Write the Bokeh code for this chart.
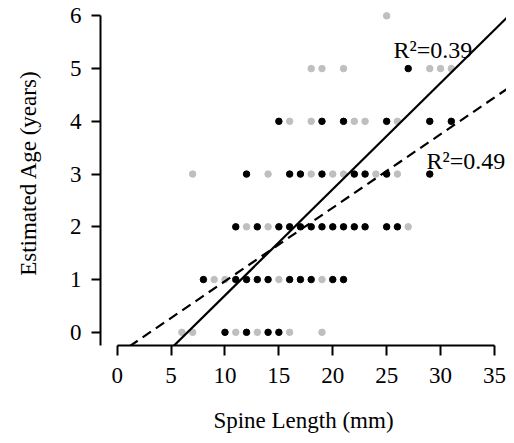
from bokeh.plotting import figure
from bokeh.models import Range1d, FixedTicker, Label
from bokeh.embed import file_html
from bokeh.resources import INLINE

# Data
black_x = [27,
           15, 19, 21, 25, 29, 31,
           12, 16, 17, 19, 22, 23, 25, 29,
           11, 13, 15, 16, 17, 18, 19, 20, 21, 22, 23, 25, 26,
           8, 11, 12, 13, 14, 16, 17, 18, 20, 21,
           10, 12, 14, 15]
black_y = [5,
           4, 4, 4, 4, 4, 4,
           3, 3, 3, 3, 3, 3, 3, 3,
           2, 2, 2, 2, 2, 2, 2, 2, 2, 2, 2, 2, 2,
           1, 1, 1, 1, 1, 1, 1, 1, 1, 1,
           0, 0, 0, 0]
grey_x = [25,
          18, 19, 21, 29, 30, 31,
          16, 18, 22, 23, 26,
          7, 14, 18, 20, 21, 24, 26,
          12, 14, 27,
          9, 10, 15, 19,
          6, 7, 11, 13, 16, 19]
grey_y = [6,
          5, 5, 5, 5, 5, 5,
          4, 4, 4, 4, 4,
          3, 3, 3, 3, 3, 3, 3,
          2, 2, 2,
          1, 1, 1, 1,
          0, 0, 0, 0, 0, 0]

# regression fits (slope, intercept) and labels
solid_fit = (0.2013, -1.313)
dashed_fit = (0.1393, -0.424)
solid_label = "R\u00b2=0.39"
dashed_label = "R\u00b2=0.49"

x_ticks = [0, 5, 10, 15, 20, 25, 30, 35]
y_ticks = [0, 1, 2, 3, 4, 5, 6]

FONT = "Liberation Serif"

p = figure(width=506, height=435,
           x_range=Range1d(-1.549, 36.12), y_range=Range1d(-0.25, 6.291),
           output_backend="svg", toolbar_location=None,
           min_border_left=100, min_border_right=0,
           min_border_top=0, min_border_bottom=82)
p.grid.visible = False
p.outline_line_color = None
p.background_fill_color = "white"

for ax in (p.xaxis, p.yaxis):
    ax.axis_line_width = 2
    ax.major_tick_line_width = 2
    ax.major_tick_in = 0
    ax.minor_tick_line_color = None
    ax.major_label_text_font = FONT
    ax.major_label_text_font_size = "23px"
    ax.major_label_text_color = "black"
    ax.axis_label_text_font = FONT
    ax.axis_label_text_font_size = "23px"
    ax.axis_label_text_font_style = "normal"
    ax.axis_label_text_color = "black"
    ax.axis_line_color = "black"
    ax.major_tick_line_color = "black"

p.xaxis.ticker = FixedTicker(ticks=x_ticks)
p.yaxis.ticker = FixedTicker(ticks=y_ticks)
p.xaxis.bounds = (0, 35)
p.yaxis.bounds = (-0.25, 6)
p.xaxis.major_tick_out = 10
p.yaxis.major_tick_out = 9
p.xaxis.major_label_standoff = 12
p.yaxis.major_label_standoff = 10
p.xaxis.axis_label = "Spine Length (mm)"
p.yaxis.axis_label = "Estimated Age (years)"
p.xaxis.axis_label_standoff = 22
p.yaxis.axis_label_standoff = 26

p.scatter(grey_x, grey_y, size=6.5, fill_color="#bfbfbf", line_color="#bfbfbf")
p.scatter(black_x, black_y, size=6.5, fill_color="black", line_color="black")

fit_x = [-5, 45]
p.line(fit_x, [solid_fit[0] * x + solid_fit[1] for x in fit_x],
       line_color="black", line_width=2.2)
p.line(fit_x, [dashed_fit[0] * x + dashed_fit[1] for x in fit_x],
       line_color="black", line_width=2.2, line_dash="10 6")

p.add_layout(Label(x=25.63, y=5.35, text=solid_label, text_font=FONT,
                   text_font_size="24px", text_baseline="alphabetic",
                   text_color="black"))
p.add_layout(Label(x=28.7, y=3.25, text=dashed_label, text_font=FONT,
                   text_font_size="24px", text_baseline="alphabetic",
                   text_color="black"))

open("out.html", "w").write(file_html(p, INLINE))
